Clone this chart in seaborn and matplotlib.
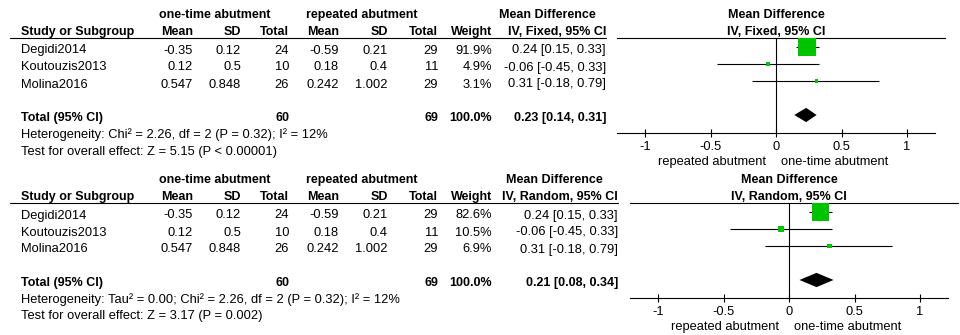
import matplotlib
matplotlib.use("Agg")
import matplotlib.pyplot as plt
import seaborn as sns
import pandas as pd

# ---- study data -------------------------------------------------------
studies = ["Degidi2014", "Koutouzis2013", "Molina2016"]
onetime_mean = [-0.35, 0.12, 0.547]
onetime_sd = [0.12, 0.5, 0.848]
onetime_n = [24, 10, 26]
repeated_mean = [-0.59, 0.18, 0.242]
repeated_sd = [0.21, 0.4, 1.002]
repeated_n = [29, 11, 29]

md = [0.24, -0.06, 0.31]
md_lo = [0.15, -0.45, -0.18]
md_hi = [0.33, 0.33, 0.79]

fixed_weight = [91.9, 4.9, 3.1]
fixed_total = (0.23, 0.14, 0.31)
random_weight = [82.6, 10.5, 6.9]
random_total = (0.21, 0.08, 0.34)

onetime_total_n = 60
repeated_total_n = 69
total_weight = 100.0

fixed_het = "Heterogeneity: Chi\u00b2 = 2.26, df = 2 (P = 0.32); I\u00b2 = 12%"
fixed_test = "Test for overall effect: Z = 5.15 (P < 0.00001)"
random_het = ("Heterogeneity: Tau\u00b2 = 0.00; Chi\u00b2 = 2.26, df = 2 "
              "(P = 0.32); I\u00b2 = 12%")
random_test = "Test for overall effect: Z = 3.17 (P = 0.002)"

tick_values = [-1, -0.5, 0, 0.5, 1]
tick_labels = ["-1", "-0.5", "0", "0.5", "1"]
favours_left = "repeated abutment"
favours_right = "one-time abutment"

# ---- figure -----------------------------------------------------------
sns.set_theme(style="white")
plt.rcParams["font.family"] = ["Liberation Sans", "DejaVu Sans"]
plt.rcParams["axes.unicode_minus"] = False

W, H = 960, 335
FS = 9.3
FS_BOLD = 9.0
GREEN = "#00c400"
LW = 0.8

fig = plt.figure(figsize=(W / 100, H / 100), dpi=100)
fig.patch.set_facecolor("white")
table = fig.add_axes([0, 0, 1, 1])
table.set_xlim(0, W)
table.set_ylim(H, 0)
table.axis("off")


def txt(x, y, s, ha="left", bold=False):
    table.text(x, y, s, ha=ha, va="center",
               fontsize=FS_BOLD if bold else FS,
               fontweight="bold" if bold else "normal", color="black")


def panel(y0, weights, total, model, het, test, ci_right, md_hdr_left,
          zero_px, scale=131.0):
    # column anchors (right edges)
    c_om, c_osd, c_on = 193, 241, 289
    c_rm, c_rsd, c_rn = 339, 388, 438
    c_w = 492

    # header
    txt(159, y0 + 15, "one-time abutment", bold=True)
    txt(306, y0 + 15, "repeated abutment", bold=True)
    txt(md_hdr_left, y0 + 15, "Mean Difference", bold=True)
    txt(21, y0 + 32, "Study or Subgroup", bold=True)
    for x, s in [(c_om, "Mean"), (c_osd, "SD"), (c_on, "Total"),
                 (c_rm, "Mean"), (c_rsd, "SD"), (c_rn, "Total"),
                 (c_w, "Weight"), (ci_right, f"IV, {model}, 95% CI")]:
        txt(x, y0 + 32, s, ha="right", bold=True)
    table.plot([10, ci_right], [y0 + 38, y0 + 38], color="black", lw=LW)

    # study rows
    for i, name in enumerate(studies):
        y = y0 + 50.5 + 17 * i
        txt(21, y, name)
        txt(c_om, y, f"{onetime_mean[i]:g}", ha="right")
        txt(c_osd, y, f"{onetime_sd[i]:g}", ha="right")
        txt(c_on, y, f"{onetime_n[i]}", ha="right")
        txt(c_rm, y, f"{repeated_mean[i]:g}", ha="right")
        txt(c_rsd, y, f"{repeated_sd[i]:g}", ha="right")
        txt(c_rn, y, f"{repeated_n[i]}", ha="right")
        txt(c_w, y, f"{weights[i]:.1f}%", ha="right")
        txt(ci_right, y, f"{md[i]:.2f} [{md_lo[i]:.2f}, {md_hi[i]:.2f}]",
            ha="right")

    # total rows
    yt = y0 + 118
    txt(21, yt, "Total (95% CI)", bold=True)
    txt(c_on, yt, f"{onetime_total_n}", ha="right", bold=True)
    txt(c_rn, yt, f"{repeated_total_n}", ha="right", bold=True)
    txt(c_w, yt, f"{total_weight:.1f}%", ha="right", bold=True)
    txt(ci_right, yt, f"{total[0]:.2f} [{total[1]:.2f}, {total[2]:.2f}]",
        ha="right", bold=True)
    txt(21, y0 + 134.5, het)
    txt(21, y0 + 151.5, test)

    # forest plot axes
    xmin, xmax = -1.21, 1.29
    top_px, bot_px = y0 + 38, y0 + 133
    left_px = zero_px + xmin * scale
    ax = fig.add_axes([left_px / W, 1 - bot_px / H,
                       (xmax - xmin) * scale / W, (bot_px - top_px) / H])
    ax.set_facecolor("none")

    rows = list(range(len(studies)))
    ax.hlines(rows, md_lo, md_hi, color="black", lw=LW, zorder=2)
    df = pd.DataFrame({"md": md, "row": rows, "weight": weights})
    sns.scatterplot(data=df, x="md", y="row", size="weight",
                    sizes=(0, 185), size_norm=(0, 100), marker="s",
                    color=GREEN, linewidth=0, legend=False, ax=ax, zorder=3)
    m, lo, hi = total
    ax.fill([lo, m, hi, m], [4, 4 - 0.42, 4, 4 + 0.42], color="black",
            lw=0, zorder=3)
    ax.axvline(0, color="black", lw=LW, zorder=1)

    ax.set_xlim(xmin, xmax)
    ax.set_ylim(5.06, -0.53)
    ax.set_xlabel("")
    ax.set_ylabel("")
    ax.set_yticks([])
    ax.set_xticks(tick_values)
    ax.set_xticklabels(tick_labels)
    ax.tick_params(axis="x", direction="inout", length=6, width=LW,
                   labelsize=FS, pad=3, colors="black", bottom=True)
    for side in ["left", "right"]:
        ax.spines[side].set_visible(False)
    for side in ["top", "bottom"]:
        ax.spines[side].set_color("black")
        ax.spines[side].set_linewidth(LW)
    ax.spines["bottom"].set_bounds(-1.21, 1.21)

    # column header and favours labels
    txt(zero_px, y0 + 15, "Mean Difference", ha="center", bold=True)
    txt(zero_px, y0 + 32, f"IV, {model}, 95% CI", ha="center", bold=True)
    txt(zero_px - 10, y0 + 162, favours_left, ha="right")
    txt(zero_px + 5, y0 + 162, favours_right, ha="left")


panel(0, fixed_weight, fixed_total, "Fixed", fixed_het, fixed_test,
      ci_right=606, md_hdr_left=499, zero_px=776)
panel(165, random_weight, random_total, "Random", random_het, random_test,
      ci_right=618, md_hdr_left=506, zero_px=789)

fig.savefig("out.png", dpi=100, facecolor="white")
